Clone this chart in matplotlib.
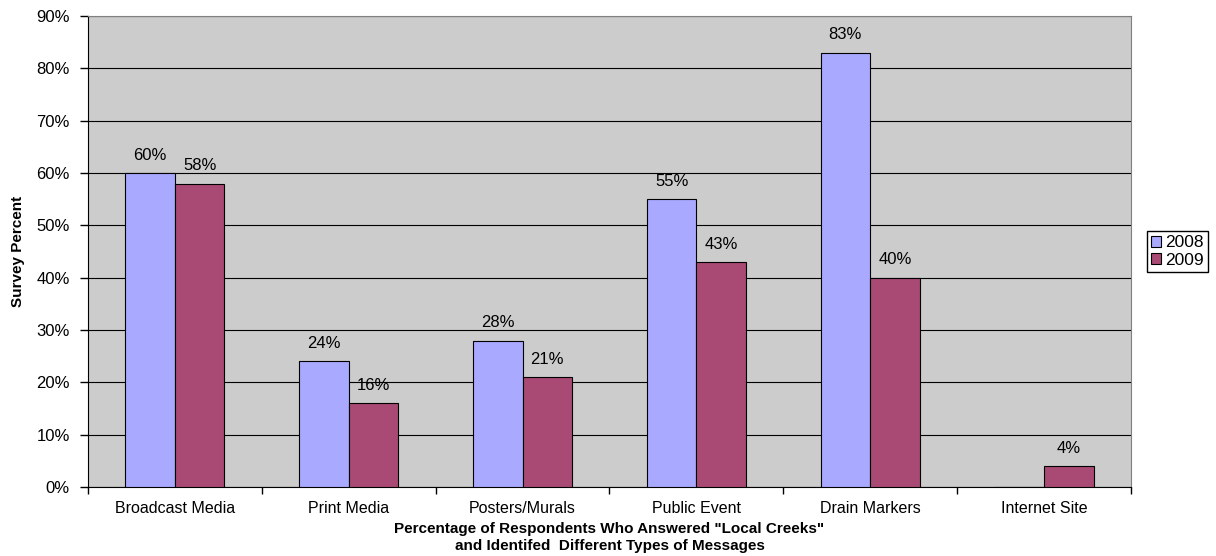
import numpy as np
import matplotlib.pyplot as plt

plt.rcParams['font.family'] = ['Liberation Sans', 'DejaVu Sans']

categories = ['Broadcast Media', 'Print Media', 'Posters/Murals', 'Public Event', 'Drain Markers', 'Internet Site']
pct_2008 = [60, 24, 28, 55, 83, 0]
pct_2009 = [58, 16, 21, 43, 40, 4]

fig = plt.figure(figsize=(12.16, 5.56), dpi=100)
ax = fig.add_axes([0.0724, 0.124, 0.8576, 0.847])
ax.set_facecolor('#CCCCCC')

x = np.arange(len(categories))
w = 0.285
b1 = ax.bar(x - w / 2, pct_2008, w, color='#A9A9FF', edgecolor='black', linewidth=0.8, label='2008', zorder=3)
b2 = ax.bar(x + w / 2, pct_2009, w, color='#A94A75', edgecolor='black', linewidth=0.8, label='2009', zorder=3)

# value labels, skip empty bars
for bars, vals in ((b1, pct_2008), (b2, pct_2009)):
    for rect, v in zip(bars, vals):
        if v == 0:
            continue
        ax.text(rect.get_x() + rect.get_width() / 2, v + 2.0, f'{v}%',
                ha='center', va='bottom', fontsize=12)

ax.set_xlim(-0.5, len(categories) - 0.5)
ax.set_ylim(0, 90)
ax.set_yticks(range(0, 91, 10))
ax.set_yticklabels([f'{t}%' for t in range(0, 91, 10)], fontsize=12)
ax.yaxis.grid(True, color='black', linewidth=0.8, zorder=0)
ax.set_axisbelow(True)

ax.set_xticks(x)
ax.set_xticklabels(categories, fontsize=11.5)
ax.tick_params(axis='x', length=0, pad=10)
ax.set_xticks(np.arange(-0.5, len(categories)), minor=True)
ax.tick_params(axis='x', which='minor', length=5, width=1)
ax.tick_params(axis='y', length=6, width=1, pad=7)

for side in ('top', 'right'):
    ax.spines[side].set_color('#808080')
for side in ('left', 'bottom'):
    ax.spines[side].set_color('black')

ax.set_ylabel('Survey Percent', fontsize=11, fontweight='bold', labelpad=8)
ax.set_xlabel('Percentage of Respondents Who Answered "Local Creeks"\nand Identifed  Different Types of Messages',
              fontsize=11, fontweight='bold', labelpad=4, linespacing=1.3)

leg = ax.legend(loc='center left', bbox_to_anchor=(1.015, 0.5), fontsize=12.5,
                frameon=True, fancybox=False, edgecolor='black', framealpha=1,
                handlelength=0.6, handleheight=0.6, handletextpad=0.2,
                borderpad=0.25, labelspacing=0.15, borderaxespad=0)
leg.get_frame().set_linewidth(1)

fig.savefig('out.png', dpi=100)
